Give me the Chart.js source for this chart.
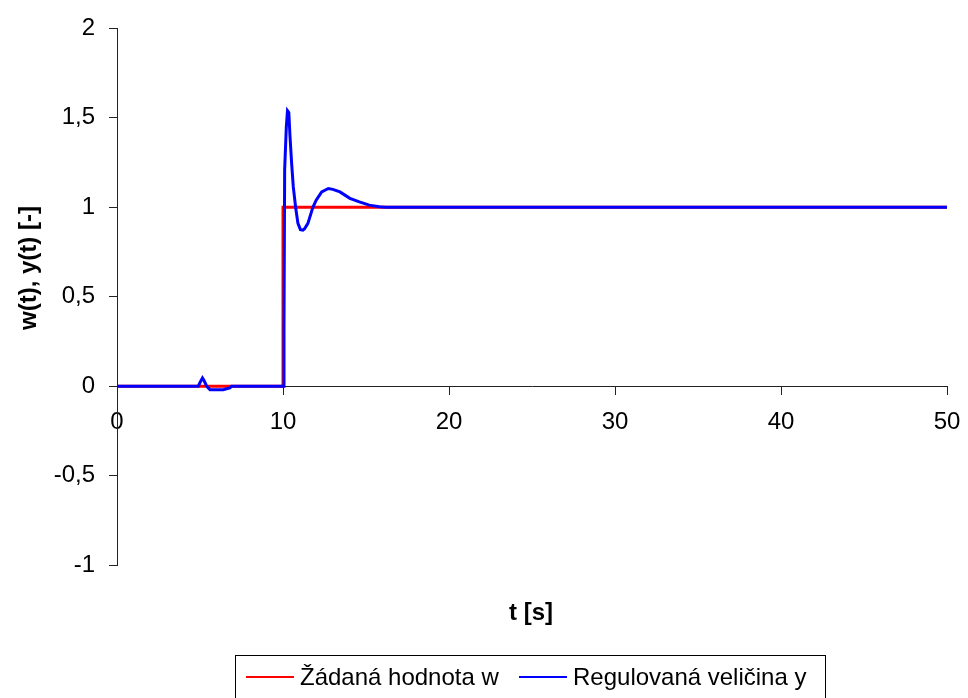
<!DOCTYPE html>
<html>
<head>
<meta charset="utf-8">
<script src="https://cdn.jsdelivr.net/npm/chart.js@4.4.0/dist/chart.umd.min.js"></script>
<style>
  body { margin: 0; background: #fff; }
  #wrap { position: relative; width: 968px; height: 698px; overflow: hidden; }
  #chart { position: absolute; left: 0; top: 0; }
  #legend {
    position: absolute; left: 235px; top: 655px; width: 591px; height: 50px;
    border: 1px solid #000; box-sizing: border-box;
    font-family: "Liberation Sans", Arial, sans-serif; font-size: 24px; color: #000;
  }
  #legend .item { position: absolute; top: 7px; display: flex; align-items: center; white-space: nowrap; }
  #legend .line { display: inline-block; width: 48px; height: 2px; margin-right: 6px; }
</style>
</head>
<body>
<div id="wrap">
  <canvas id="chart" width="968" height="698"></canvas>
  <div id="legend"></div>
</div>
<script>
// setpoint w(t)
const wTime = [0, 10, 10, 50];
const wValues = [0, 0, 1, 1];

// controlled variable y(t)
const yTime = [0, 4.9, 5.0, 5.15, 5.25, 5.4, 5.6, 6.4, 6.6, 6.8, 6.9,
  10.04, 10.06, 10.1, 10.2, 10.27, 10.35, 10.42, 10.52, 10.62, 10.76, 10.9,
  11.05, 11.2, 11.3, 11.5, 11.8, 12.0, 12.33, 12.73, 13.0, 13.43, 14.03,
  14.6, 15.2, 15.8, 16.2, 50];
const yValues = [0, 0, 0.02, 0.045, 0.03, 0, -0.02, -0.02, -0.015, -0.01, 0,
  0, 0.32, 1.21, 1.45, 1.54, 1.53, 1.40, 1.245, 1.114, 1.0, 0.91,
  0.875, 0.872, 0.88, 0.91, 1.0, 1.04, 1.086, 1.105, 1.1, 1.086, 1.05,
  1.03, 1.012, 1.003, 1.0, 1.0];

const xTicks = [0, 10, 20, 30, 40, 50];
const yTicks = [-1, -0.5, 0, 0.5, 1, 1.5, 2];

const seriesNames = ["Žádaná hodnota w", "Regulovaná veličina y"];
const seriesColors = ["#ff0000", "#0000ff"];

const FONT = "'Liberation Sans', Arial, sans-serif";
const axisColor = "#222";

function toPoints(xs, ys) {
  return xs.map((x, i) => ({ x: x, y: ys[i] }));
}

// axis titles drawn at the reference positions
const axisTitles = {
  id: "axisTitles",
  afterDraw(chart) {
    const ctx = chart.ctx;
    ctx.save();
    ctx.fillStyle = "#000";
    ctx.font = "bold 24px " + FONT;
    ctx.textAlign = "center";
    ctx.textBaseline = "middle";
    ctx.fillText("t [s]", 531, 613);
    ctx.translate(29, 268);
    ctx.rotate(-Math.PI / 2);
    ctx.fillText("w(t), y(t) [-]", 0, 0);
    ctx.restore();
  }
};

const ctx = document.getElementById("chart").getContext("2d");

const chart = new Chart(ctx, {
  type: "line",
  data: {
    datasets: [
      {
        label: seriesNames[0],
        data: toPoints(wTime, wValues),
        borderColor: seriesColors[0],
        borderWidth: 3,
        pointRadius: 0,
        tension: 0,
        order: 1
      },
      {
        label: seriesNames[1],
        data: toPoints(yTime, yValues),
        borderColor: seriesColors[1],
        borderWidth: 3,
        pointRadius: 0,
        tension: 0,
        order: 0
      }
    ]
  },
  options: {
    responsive: false,
    animation: false,
    layout: { padding: { top: 26, right: 21, bottom: 133, left: 0 } },
    plugins: {
      legend: { display: false },
      tooltip: { enabled: false }
    },
    scales: {
      x: {
        type: "linear",
        min: 0,
        max: 50,
        position: { y: 0 },
        afterBuildTicks: (scale) => { scale.ticks = xTicks.map(v => ({ value: v })); },
        afterFit: (scale) => { scale.paddingLeft = 0; scale.paddingRight = 0; },
        ticks: {
          font: { family: FONT, size: 24 },
          color: "#000",
          padding: 14,
          maxRotation: 0,
          autoSkip: false
        },
        grid: { drawOnChartArea: false, drawTicks: true, tickLength: 8, color: axisColor },
        border: { color: axisColor, width: 1 }
      },
      y: {
        type: "linear",
        min: -1,
        max: 2,
        afterBuildTicks: (scale) => { scale.ticks = yTicks.map(v => ({ value: v })); },
        afterFit: (scale) => { scale.width = 117; },
        ticks: {
          font: { family: FONT, size: 24 },
          color: "#000",
          padding: 14,
          callback: (v) => String(v).replace(".", ",")
        },
        grid: { drawOnChartArea: false, drawTicks: true, tickLength: 8, color: axisColor },
        border: { color: axisColor, width: 1 }
      }
    }
  },
  plugins: [axisTitles]
});

// legend built from the chart datasets
const legendEl = document.getElementById("legend");
const legendOffsets = [10, 283];
chart.data.datasets.forEach((ds, i) => {
  const item = document.createElement("span");
  item.className = "item";
  item.style.left = legendOffsets[i] + "px";
  const line = document.createElement("span");
  line.className = "line";
  line.style.background = ds.borderColor;
  const text = document.createElement("span");
  text.textContent = ds.label;
  item.appendChild(line);
  item.appendChild(text);
  legendEl.appendChild(item);
});
</script>
</body>
</html>
